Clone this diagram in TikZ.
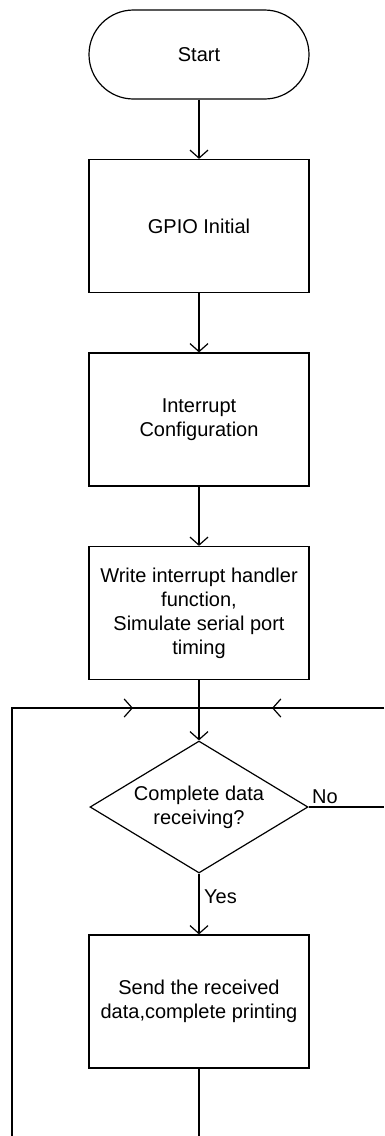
\documentclass[tikz,border=0pt]{standalone}
\usepackage{fontspec}
\setmainfont{Liberation Sans}
\usetikzlibrary{arrows.meta,shapes.geometric}
\begin{document}
\begin{tikzpicture}[x=1pt,y=-1pt,
  every node/.style={font=\fontsize{20}{24}\selectfont},
  box/.style={draw,line width=1.2pt,minimum width=220pt,minimum height=133pt,align=center,inner sep=0pt},
  term/.style={draw,line width=1.2pt,minimum width=220pt,minimum height=89pt,rounded corners=44.5pt,inner sep=0pt},
  dec/.style={draw,diamond,line width=1.2pt,minimum width=218pt,minimum height=132pt,inner sep=0pt,shape aspect=1.65,align=center},
  line/.style={line width=1.2pt},
  arr/.style={line,-{Straight Barb[length=8pt,width=18pt,line width=1.2pt]}},
  lbl/.style={inner sep=0pt}
]
\useasboundingbox (0,0) rectangle (384,1136);
\node[term] (start) at (199,54.5) {Start};
\node[box] (gpio) at (199,226) {GPIO Initial};
\node[box] (int) at (199,419.5) {Interrupt\\Configuration};
\node[box] (write) at (199,613) {Write interrupt handler\\function,\\Simulate serial port\\timing};
\node[dec] (dec) at (199,807) {Complete data\\receiving?};
\node[box] (send) at (199,1001.5) {Send the received\\data,complete printing};
\node[lbl,anchor=base west] (yes) at (204,903) {Yes};
\node[lbl,anchor=base west] (no) at (312,803) {No};
\coordinate (j) at (199,708);
\coordinate (lt) at (12,708);
\coordinate (la) at (133,708);
\coordinate (ra) at (272,708);
\coordinate (rt) at (384,708);
\coordinate (nr) at (384,807);
\coordinate (lb) at (12,1136);
\coordinate (bb) at (199,1136);
\draw[arr] (start) -- (gpio);
\draw[arr] (gpio) -- (int);
\draw[arr] (int) -- (write);
\draw[arr] (write) -- (dec);
\draw[arr] (dec) -- (send);
\draw[line] (send) -- (bb);
\draw[line] (lb) |- (j);
\draw[arr] (lt) -- (la);
\draw[line] (rt) -- (j);
\draw[arr] (rt) -- (ra);
\draw[line] (dec.east) -- (nr);
\end{tikzpicture}
\end{document}
